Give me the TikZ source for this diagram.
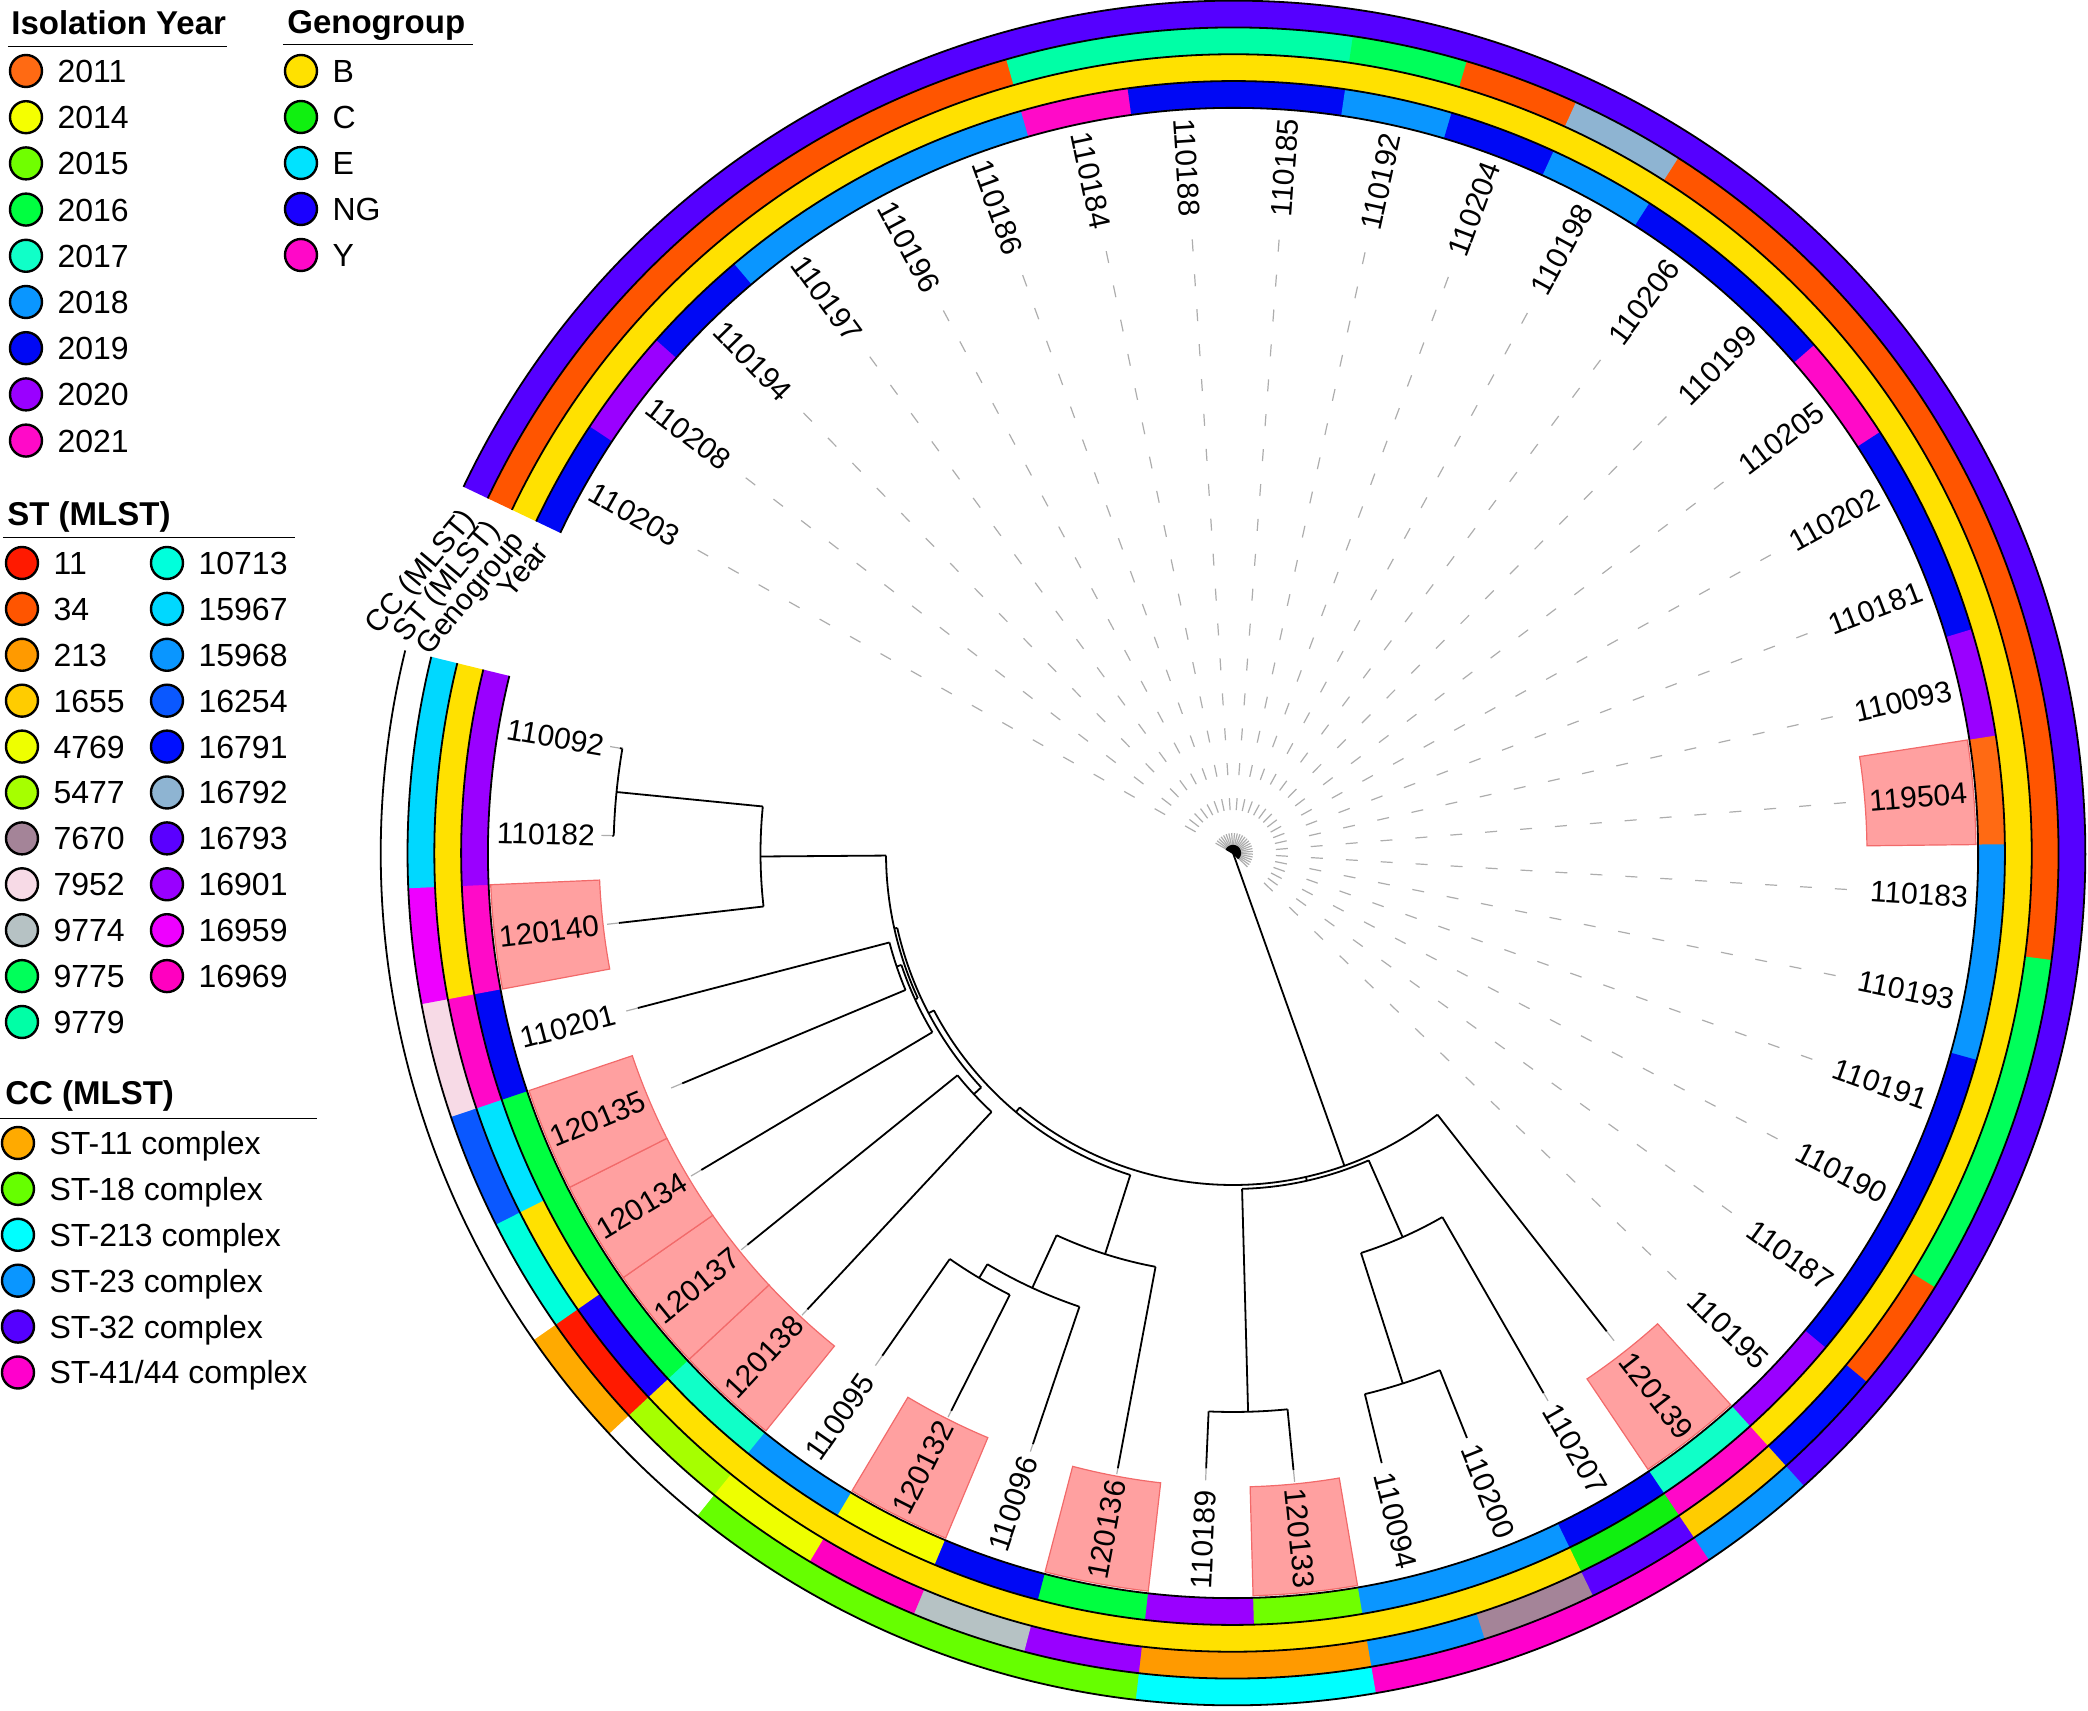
\documentclass[tikz,border=0pt]{standalone}
\usepackage{fontspec}
\setmainfont{Liberation Sans}
\usepackage{xcolor}
\usepackage{tikz}
\usetikzlibrary{positioning}

% year
\definecolor{y2011}{HTML}{FF6A13}
\definecolor{y2014}{HTML}{F5FF00}
\definecolor{y2015}{HTML}{70FF00}
\definecolor{y2016}{HTML}{00FF40}
\definecolor{y2017}{HTML}{10FFC8}
\definecolor{y2018}{HTML}{0A96FF}
\definecolor{y2019}{HTML}{0008F5}
\definecolor{y2020}{HTML}{9A00FF}
\definecolor{y2021}{HTML}{FF0AC8}
% genogroup
\definecolor{gB}{HTML}{FFE100}
\definecolor{gC}{HTML}{10F010}
\definecolor{gE}{HTML}{00E3FF}
\definecolor{gNG}{HTML}{1A00FF}
\definecolor{gY}{HTML}{FF08C8}
% sequence types
\definecolor{s11}{HTML}{FF1A00}
\definecolor{s34}{HTML}{FF5500}
\definecolor{s213}{HTML}{FF9A00}
\definecolor{s1655}{HTML}{FFCC00}
\definecolor{s4769}{HTML}{EEFF00}
\definecolor{s5477}{HTML}{A6FF00}
\definecolor{s7670}{HTML}{A48498}
\definecolor{s7952}{HTML}{F7DAE6}
\definecolor{s9774}{HTML}{B6C2C4}
\definecolor{s9775}{HTML}{00FF5A}
\definecolor{s9779}{HTML}{00FFA6}
\definecolor{s10713}{HTML}{00FFDC}
\definecolor{s15967}{HTML}{00D8FF}
\definecolor{s15968}{HTML}{0A96FF}
\definecolor{s16254}{HTML}{0A58FF}
\definecolor{s16791}{HTML}{0010FF}
\definecolor{s16792}{HTML}{8EB4D2}
\definecolor{s16793}{HTML}{5A00FF}
\definecolor{s16901}{HTML}{9900FF}
\definecolor{s16959}{HTML}{EE00FF}
\definecolor{s16969}{HTML}{FF00C0}
% clonal complexes
\definecolor{c11}{HTML}{FFAA00}
\definecolor{c18}{HTML}{66FF00}
\definecolor{c213}{HTML}{00FFFF}
\definecolor{c23}{HTML}{0A96FF}
\definecolor{c32}{HTML}{5500FF}
\definecolor{c41}{HTML}{FF00CC}
\definecolor{hlfill}{HTML}{FFA0A0}
\definecolor{hldraw}{HTML}{F26A6A}

\tikzset{swatch/.style={
    circle,
    draw=black,
    line width=1.2pt,
    minimum size=16pt,
    inner sep=0pt,
}}
\tikzset{legtext/.style={
    font=\fontsize{16}{19}\selectfont,
    inner sep=0pt,
    text height=11.5pt,
    text depth=0pt,
}}
\tikzset{legtitle/.style={
    font=\fontsize{16.5}{20}\selectfont\bfseries,
    inner sep=0pt,
}}
\tikzset{tiplabel/.style={
    font=\fontsize{15}{18}\selectfont,
    inner sep=0pt,
    text height=10.7pt,
    text depth=0pt,
}}
\tikzset{branch/.style={
    line width=0.9pt,
    color=black,
}}
\tikzset{guide/.style={
    line width=0.6pt,
    color=black!32,
    dash pattern=on 6pt off 11.5pt,
}}
\tikzset{ringline/.style={
    line width=0.9pt,
}}
\tikzset{hilite/.style={
    fill=hlfill,
    draw=hldraw,
    line width=0.6pt,
}}

\newcommand\ringseg[5]{\fill[#5] (#1:#3) arc[start angle=#1, end angle=#2, radius=#3] -- (#2:#4) arc[start angle=#2, end angle=#1, radius=#4] -- cycle;}
\newcommand\treearc[3]{\draw[branch] (#2:#1) arc[start angle=#2, end angle=#3, radius=#1];}
\newcommand\spoke[3]{\draw[branch] (#1:#2) -- (#1:#3);}

\begin{document}
\begin{tikzpicture}[x=1pt, y=1pt, scale=0.5, node distance=7pt]
\useasboundingbox (-1233,-858) rectangle (855,853);

% rings: year, genogroup, ST, CC
\foreach \col [count=\n] in {y2019,y2020,y2019,y2018,y2018,y2018,y2021,y2019,y2019,y2018,
    y2019,y2018,y2019,y2019,y2021,y2019,y2019,y2020,y2011,y2018,
    y2018,y2019,y2019,y2019,y2020,y2017,y2019,y2018,y2018,y2015,
    y2020,y2016,y2019,y2014,y2018,y2017,y2016,y2016,y2016,y2019,
    y2021,y2020,y2020}{
    \pgfmathsetmacro\hi{154.55-(\n-1)*8.1}
    \pgfmathsetmacro\lo{\hi-8.1-0.3*(\n<43)}
    \ringseg{\hi}{\lo}{745}{771.8}{\col}
}
\foreach \col [count=\n] in {gB,gB,gB,gB,gB,gB,gB,gB,gB,gB,
    gB,gB,gB,gB,gB,gB,gB,gB,gB,gB,
    gB,gB,gB,gB,gB,gY,gC,gB,gB,gB,
    gB,gB,gB,gB,gB,gB,gNG,gB,gE,gY,
    gB,gB,gB}{
    \pgfmathsetmacro\hi{154.55-(\n-1)*8.1}
    \pgfmathsetmacro\lo{\hi-8.1-0.3*(\n<43)}
    \ringseg{\hi}{\lo}{771.8}{798.6}{\col}
}
\foreach \col [count=\n] in {s34,s34,s34,s34,s34,s34,s9779,s9779,s9779,s9775,
    s34,s16792,s34,s34,s34,s34,s34,s34,s34,s34,
    s9775,s9775,s9775,s34,s16791,s1655,s16793,s7670,s15968,s213,
    s213,s16901,s9774,s16969,s4769,s5477,s11,s10713,s16254,s7952,
    s16959,s15967,s15967}{
    \pgfmathsetmacro\hi{154.55-(\n-1)*8.1}
    \pgfmathsetmacro\lo{\hi-8.1-0.3*(\n<43)}
    \ringseg{\hi}{\lo}{798.6}{825.4}{\col}
}
\foreach \col [count=\n] in {c32,c32,c32,c32,c32,c32,c32,c32,c32,c32,
    c32,c32,c32,c32,c32,c32,c32,c32,c32,c32,
    c32,c32,c32,c32,c32,c23,c41,c41,c41,c213,
    c213,c18,c18,c18,c18,white,c11,white,white,white,
    white,white,white}{
    \pgfmathsetmacro\hi{154.55-(\n-1)*8.1}
    \pgfmathsetmacro\lo{\hi-8.1-0.3*(\n<43)}
    \ringseg{\hi}{\lo}{825.4}{852.2}{\col}
}
\foreach \r in {745,771.8,798.6,825.4,852.2}
    \draw[ringline] (154.55:\r) arc[start angle=154.55, end angle=-193.75, radius=\r];

\node[tiplabel, anchor=east, rotate=50] (ringyear) at (156:756) {Year};
\node[tiplabel, anchor=east, rotate=50] (ringgeno) at (156:783) {Genogroup};
\node[tiplabel, anchor=east, rotate=50] (ringst) at (156:810) {ST (MLST)};
\node[tiplabel, anchor=east, rotate=50] (ringcc) at (156:837) {CC (MLST)};

% dashed guides to the labels
\foreach \n/\r in {1/8,2/8,3/8,4/8,5/8,6/8,7/8,8/8,9/8,10/8,11/8,12/8,13/8,14/8,15/8,
    16/8,17/8,18/8,19/8,20/8,21/8,22/8,23/8,24/8,25/8,26/607,27/623,30/620,31/616,
    32/626,33/624,34/625,35/613,36/624,37/624,38/619,39/597,40/615,41/618,42/620,43/621}{
    \pgfmathsetmacro\th{150.5-(\n-1)*8.1}
    \draw[guide] (\th:\r) -- (\th:632);
}

% highlighted isolates
\foreach \n in {19,26,30,32,34,36,37,38,39,41}{
    \pgfmathsetmacro\hi{154.55-(\n-1)*8.1}
    \pgfmathsetmacro\lo{\hi-8.1}
    \ringseg{\hi}{\lo}{634}{743}{hilite}
}

% tree
\foreach \n in {1,...,25}{
    \pgfmathsetmacro\th{150.5-(\n-1)*8.1}
    \spoke{\th}{0}{8}
}
\spoke{-70.4}{0}{332}
\treearc{332}{-52}{-129.96}
\spoke{-52}{332}{607}
\spoke{-77.31}{332}{336}
\spoke{-129.96}{332}{338}
\treearc{336}{-66.175}{-88.45}
\spoke{-88.45}{336}{559}
\spoke{-66.175}{336}{420}
\treearc{420}{-60.1}{-72.25}
\spoke{-60.1}{420}{623}
\spoke{-72.25}{420}{557}
\treearc{557}{-68.2}{-76.3}
\spoke{-68.2}{557}{630}
\spoke{-76.3}{557}{628}
\treearc{559}{-84.4}{-92.5}
\spoke{-84.4}{559}{620}
\spoke{-92.5}{559}{616}
\treearc{338}{-107.69}{-152.24}
\spoke{-107.69}{338}{421}
\spoke{-152.24}{338}{344}
\treearc{421}{-100.6}{-114.775}
\spoke{-100.6}{421}{626}
\spoke{-114.775}{421}{479}
\treearc{479}{-108.7}{-120.85}
\spoke{-108.7}{479}{624}
\spoke{-120.85}{479}{495}
\treearc{495}{-116.8}{-124.9}
\spoke{-116.8}{495}{625}
\spoke{-124.9}{495}{613}
\treearc{344}{-137.05}{-167.425}
\spoke{-137.05}{344}{354}
\spoke{-167.425}{344}{347}
\treearc{354}{-133}{-141.1}
\spoke{-133}{354}{624}
\spoke{-141.1}{354}{624}
\treearc{347}{-155.275}{-179.575}
\spoke{-155.275}{347}{350}
\spoke{-179.575}{347}{472.5}
\treearc{350}{-149.2}{-161.35}
\spoke{-149.2}{350}{619}
\spoke{-161.35}{350}{355}
\treearc{355}{-157.3}{-165.4}
\spoke{-157.3}{355}{597}
\spoke{-165.4}{355}{615}
\treearc{472.5}{-173.5}{-185.65}
\spoke{-173.5}{472.5}{618}
\spoke{-185.65}{472.5}{619.5}
\treearc{619.5}{-181.6}{-189.7}
\spoke{-181.6}{619.5}{621}
\spoke{-189.7}{619.5}{622}

% tip labels
\foreach \n/\lab in {1/110203,2/110208,3/110194,4/110197,5/110196,6/110186,7/110184,
    8/110188,9/110185,10/110192,11/110204,12/110198,13/110206,14/110199,15/110205,
    16/110202,17/110181,18/110093,19/119504,20/110183,21/110193,22/110191,23/110190,
    24/110187,25/110195,26/120139,27/110207,28/110200,29/110094,30/120133,31/110189,
    32/120136,33/110096,34/120132,35/110095,36/120138,37/120137,38/120134,39/120135,
    40/110201,41/120140,42/110182,43/110092}{
    \pgfmathsetmacro\th{150.5-(\n-1)*8.1}
    \pgfmathtruncatemacro\onright{cos(\th)>0}
    \ifnum\onright=1
        \node[tiplabel, anchor=west, rotate=\th] (tip\n) at (\th:638) {\lab};
    \else
        \pgfmathsetmacro\rot{\th+180}
        \node[tiplabel, anchor=east, rotate=\rot] (tip\n) at (\th:638) {\lab};
    \fi
}

% legend: isolation year
\node[legtitle, anchor=base west] (yeartitle) at (-1222,818) {Isolation Year};
\draw[line width=0.7pt] (-1225,806.3) -- (-1006,806.3);
\foreach \yr [count=\k] in {2011,2014,2015,2016,2017,2018,2019,2020,2021}{
    \node[swatch, fill=y\yr] (yr\k) at (-1207,{782-46.2*(\k-1)}) {};
    \node[legtext, right=of yr\k] (yrtxt\k) {\yr};
}

% legend: genogroup
\node[legtitle, anchor=base west] (genotitle) at (-946,819.7) {Genogroup};
\draw[line width=0.7pt] (-950,808.7) -- (-760,808.7);
\foreach \g [count=\k] in {B,C,E,NG,Y}{
    \node[swatch, fill=g\g] (geno\k) at (-932,{782-46*(\k-1)}) {};
    \node[legtext, right=of geno\k] (genotxt\k) {\g};
}

% legend: ST
\node[legtitle, anchor=base west] (sttitle) at (-1226,327) {ST (MLST)};
\draw[line width=0.7pt] (-1230,315.7) -- (-938,315.7);
\foreach \s [count=\k] in {11,34,213,1655,4769,5477,7670,7952,9774,9775,9779}{
    \node[swatch, fill=s\s] (sta\k) at (-1211,{290-45.9*(\k-1)}) {};
    \node[legtext, right=of sta\k] (statxt\k) {\s};
}
\foreach \s [count=\k] in {10713,15967,15968,16254,16791,16792,16793,16901,16959,16969}{
    \node[swatch, fill=s\s] (stb\k) at (-1066,{290-45.9*(\k-1)}) {};
    \node[legtext, right=of stb\k] (stbtxt\k) {\s};
}

% legend: CC
\node[legtitle, anchor=base west] (cctitle) at (-1228,-252) {CC (MLST)};
\draw[line width=0.7pt] (-1233,-265.3) -- (-916,-265.3);
\foreach \cc/\txt [count=\k] in {c11/{ST-11 complex},c18/{ST-18 complex},c213/{ST-213 complex},
    c23/{ST-23 complex},c32/{ST-32 complex},c41/{ST-41/44 complex}}{
    \node[swatch, fill=\cc] (cc\k) at (-1215,{-290-45.9*(\k-1)}) {};
    \node[legtext, right=of cc\k] (cctxt\k) {\txt};
}

\end{tikzpicture}
\end{document}
